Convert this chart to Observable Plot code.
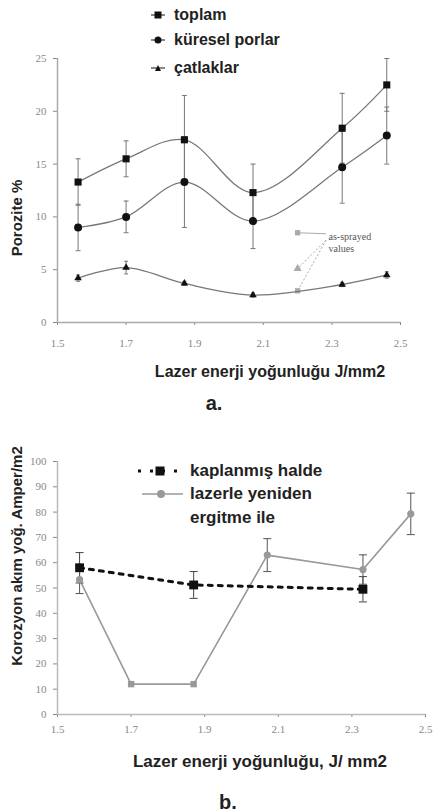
<!DOCTYPE html>
<html>
<head>
<meta charset="utf-8">
<script src="https://cdn.jsdelivr.net/npm/d3@7"></script>
<script src="https://cdn.jsdelivr.net/npm/@observablehq/plot@0.6"></script>
<style>
  html, body { margin: 0; padding: 0; background: #fff; }
  #wrap { position: relative; width: 434px; height: 812px; overflow: hidden; font-family: "Liberation Sans", Arial, sans-serif; }
  .abs { position: absolute; }
  .t { font-weight: bold; color: #222; }
  .leg { position: absolute; font-weight: bold; color: #222; white-space: nowrap; transform: translateY(-50%); }
  svg.sw { position: absolute; overflow: visible; }
  #chartA svg text, #chartB svg text { font-family: "Liberation Serif", "Times New Roman", serif; }
</style>
</head>
<body>
<div id="wrap">
  <div id="chartA" class="abs" style="left:0;top:0"></div>
  <div id="chartB" class="abs" style="left:0;top:430px"></div>
</div>
<script>
// ---------- Chart a data ----------
const xA = [1.56, 1.70, 1.87, 2.07, 2.33, 2.46];
const toplam = [13.3, 15.5, 17.3, 12.3, 18.4, 22.5];
const toplamErr = [2.2, 1.7, 4.2, 2.7, 3.3, 2.5];
const kuresel = [9.0, 10.0, 13.3, 9.6, 14.7, 17.7];
const kureselErr = [2.2, 1.5, 4.3, 2.6, 3.4, 2.7];
const catlak = [4.2, 5.2, 3.7, 2.6, 3.6, 4.5];
const catlakErr = [0.3, 0.6, 0.2, 0.2, 0.2, 0.3];
const seriesA = ["toplam", "küresel porlar", "çatlaklar"];
const asSprayedX = 2.2;
const asSprayedY = [8.5, 5.1, 3.0];
const asSprayedSym = ["square", "triangle", "square"];
const asSprayedLabel = ["as-sprayed", "values"];
const yTicksA = [0, 5, 10, 15, 20, 25];
const xTicks = [1.5, 1.7, 1.9, 2.1, 2.3, 2.5];

// ---------- Chart b data ----------
const xKaplanmis = [1.56, 1.87, 2.33];
const kaplanmis = [58, 51.2, 49.5];
const kaplanmisErr = [6, 5.3, 5];
const xLazer = [1.56, 1.70, 1.87, 2.07, 2.33, 2.46];
const lazer = [53.3, 12, 12, 63, 57.3, 79.3];
const lazerErr = [5.5, 0, 0, 6.5, 5.8, 8.2];
const lazerSym = ["circle", "square", "square", "circle", "circle", "circle"];
const seriesB = ["kaplanmış halde", "lazerle yeniden", "ergitme ile"];
const yTicksB = [0, 10, 20, 30, 40, 50, 60, 70, 80, 90, 100];

// cap symbol for error bars
const cap = { draw(ctx, size) { const w = Math.sqrt(size / Math.PI); ctx.moveTo(-w, 0); ctx.lineTo(w, 0); } };

const plotStyle = { background: "transparent", overflow: "visible", fontFamily: "Liberation Serif, Times New Roman, serif", fontSize: "11px" };

function rows(xs, ys, es) { return xs.map((x, i) => ({ x, y: ys[i], e: es ? es[i] : 0 })); }

const dToplam = rows(xA, toplam, toplamErr);
const dKuresel = rows(xA, kuresel, kureselErr);
const dCatlak = rows(xA, catlak, catlakErr);

function errMarks(d, color, capR) {
  const dd = d.filter(r => r.e > 0);
  return [
    Plot.ruleX(dd, { x: "x", y1: r => r.y - r.e, y2: r => r.y + r.e, stroke: color, strokeWidth: 1 }),
    Plot.dot(dd, { x: "x", y: r => r.y - r.e, symbol: cap, r: capR, stroke: color, strokeWidth: 1, fill: "none" }),
    Plot.dot(dd, { x: "x", y: r => r.y + r.e, symbol: cap, r: capR, stroke: color, strokeWidth: 1, fill: "none" })
  ];
}

const asD = asSprayedY.map((y, i) => ({ x: asSprayedX, y, s: asSprayedSym[i] }));
const labX = 2.283, labY = 7.8;

const plotA = Plot.plot({
  width: 434, height: 360,
  marginTop: 58, marginBottom: 38, marginLeft: 57, marginRight: 34,
  x: { domain: [1.5, 2.5] },
  y: { domain: [0, 25] },
  symbol: { type: "identity" },
  style: plotStyle,
  marks: [
    Plot.axisY({ ticks: yTicksA, tickSize: 4, tickPadding: 7, color: "#888", label: null }),
    Plot.axisX({ ticks: xTicks, tickSize: 3, tickPadding: 14, color: "#888", label: null, tickFormat: d => d.toFixed(1) }),
    Plot.ruleX([1.5], { stroke: "#aaa", strokeWidth: 1.5 }),
    Plot.ruleY([0], { stroke: "#aaa", strokeWidth: 1.5 }),
    // as-sprayed annotation
    Plot.link([asD[0]], { x1: "x", y1: "y", x2: labX, y2: 8.4, stroke: "#aaa", strokeWidth: 1 }),
    Plot.link(asD.slice(1), { x1: labX, y1: labY, x2: "x", y2: "y", stroke: "#aaa", strokeWidth: 1, strokeDasharray: "2,2" }),
    Plot.dot(asD, { x: "x", y: "y", symbol: "s", r: 3, fill: "#aaa" }),
    Plot.text(asSprayedLabel, { x: 2.29, y: (d, i) => [8.15, 7.0][i], text: d => d, textAnchor: "start", fill: "#555", fontSize: 10 }),
    // lines
    Plot.line(dToplam, { x: "x", y: "y", curve: "catmull-rom", stroke: "#777", strokeWidth: 1.3 }),
    Plot.line(dKuresel, { x: "x", y: "y", curve: "catmull-rom", stroke: "#777", strokeWidth: 1.3 }),
    Plot.line(dCatlak, { x: "x", y: "y", curve: "catmull-rom", stroke: "#777", strokeWidth: 1.3 }),
    ...errMarks(dToplam, "#777", 2.5),
    ...errMarks(dKuresel, "#777", 2.5),
    ...errMarks(dCatlak, "#777", 2),
    Plot.dot(dToplam, { x: "x", y: "y", symbol: "square", r: 4, fill: "#111" }),
    Plot.dot(dKuresel, { x: "x", y: "y", symbol: "circle", r: 4, fill: "#111" }),
    Plot.dot(dCatlak, { x: "x", y: "y", symbol: "triangle", r: 2.8, fill: "#111" })
  ]
});
document.getElementById("chartA").appendChild(plotA);

// ---------- Chart b ----------
const dKap = rows(xKaplanmis, kaplanmis, kaplanmisErr);
const dLaz = xLazer.map((x, i) => ({ x, y: lazer[i], e: lazerErr[i], s: lazerSym[i] }));

const plotB = Plot.plot({
  width: 434, height: 320,
  marginTop: 31, marginBottom: 36, marginLeft: 57, marginRight: 9,
  x: { domain: [1.5, 2.5] },
  y: { domain: [0, 100] },
  symbol: { type: "identity" },
  style: plotStyle,
  marks: [
    Plot.axisY({ ticks: yTicksB, tickSize: 4, tickPadding: 7, color: "#888", label: null }),
    Plot.axisX({ ticks: xTicks, tickSize: 3, tickPadding: 8, color: "#888", label: null, tickFormat: d => d.toFixed(1) }),
    Plot.ruleX([1.5], { stroke: "#bbb", strokeWidth: 1.5 }),
    Plot.ruleY([0], { stroke: "#bbb", strokeWidth: 1.5 }),
    Plot.line(dLaz, { x: "x", y: "y", stroke: "#999", strokeWidth: 1.6 }),
    Plot.line(dKap, { x: "x", y: "y", stroke: "#111", strokeWidth: 3, strokeDasharray: "4,6" }),
    ...errMarks(dKap, "#444", 4),
    ...errMarks(dLaz, "#555", 4),
    Plot.dot(dKap, { x: "x", y: "y", symbol: "square", r: 5, fill: "#111" }),
    Plot.dot(dLaz, { x: "x", y: "y", symbol: "s", r: 3.6, fill: "#999" })
  ]
});
document.getElementById("chartB").appendChild(plotB);

// ---------- Titles & legends (HTML) ----------
const wrap = document.getElementById("wrap");
function addText(txt, x, y, size, rotate) {
  const el = document.createElement("div");
  el.className = "abs t";
  el.textContent = txt;
  el.style.left = x + "px";
  el.style.top = y + "px";
  el.style.fontSize = size + "px";
  el.style.whiteSpace = "nowrap";
  el.style.transform = "translate(-50%, -50%)" + (rotate ? " rotate(-90deg)" : "");
  wrap.appendChild(el);
}
addText("Porozite %", 16, 218, 15, true);
addText("Lazer enerji yoğunluğu J/mm2", 270, 372, 16);
addText("a.", 214, 403, 20);
addText("Korozyon akım yoğ. Amper/m2", 16, 556, 15, true);
addText("Lazer enerji yoğunluğu, J/ mm2", 260, 762, 17);
addText("b.", 228, 802, 20);

function addLegendLabel(txt, x, y, size) {
  const el = document.createElement("div");
  el.className = "leg";
  el.textContent = txt;
  el.style.left = x + "px";
  el.style.top = y + "px";
  el.style.fontSize = size + "px";
  wrap.appendChild(el);
}
const NS = "http://www.w3.org/2000/svg";
function swatch(y, x1, x2, cx, shape, color, dash, sw, size) {
  const s = document.createElementNS(NS, "svg");
  s.setAttribute("class", "sw");
  s.setAttribute("width", 434); s.setAttribute("height", 812);
  s.style.left = "0px"; s.style.top = "0px";
  const l = document.createElementNS(NS, "line");
  l.setAttribute("x1", x1); l.setAttribute("x2", x2); l.setAttribute("y1", y); l.setAttribute("y2", y);
  l.setAttribute("stroke", color); l.setAttribute("stroke-width", sw);
  if (dash) l.setAttribute("stroke-dasharray", dash);
  s.appendChild(l);
  let m;
  if (shape === "square") {
    m = document.createElementNS(NS, "rect");
    m.setAttribute("x", cx - size / 2); m.setAttribute("y", y - size / 2);
    m.setAttribute("width", size); m.setAttribute("height", size);
  } else if (shape === "circle") {
    m = document.createElementNS(NS, "circle");
    m.setAttribute("cx", cx); m.setAttribute("cy", y); m.setAttribute("r", size / 2);
  } else {
    m = document.createElementNS(NS, "path");
    m.setAttribute("d", `M${cx},${y - size / 2}L${cx + size / 2},${y + size / 2}L${cx - size / 2},${y + size / 2}Z`);
  }
  m.setAttribute("fill", color === "#999" ? "#999" : "#111");
  s.appendChild(m);
  s.style.pointerEvents = "none";
  wrap.appendChild(s);
}
const legSymA = ["square", "circle", "triangle"];
const legYA = [15, 40, 68];
seriesA.forEach((name, i) => {
  swatch(legYA[i], 151, 165, 158, legSymA[i], "#111", null, 1, legSymA[i] === "triangle" ? 6 : 7);
  addLegendLabel(name, 174, legYA[i], 16);
});
swatch(471, 138, 183, 160, "square", "#111", "3,9", 3, 9);
swatch(494, 142, 183, 161, "circle", "#999", null, 1.6, 8);
addLegendLabel(seriesB[0], 190, 471, 17);
addLegendLabel(seriesB[1], 190, 494, 17);
addLegendLabel(seriesB[2], 190, 518, 17);
</script>
</body>
</html>
